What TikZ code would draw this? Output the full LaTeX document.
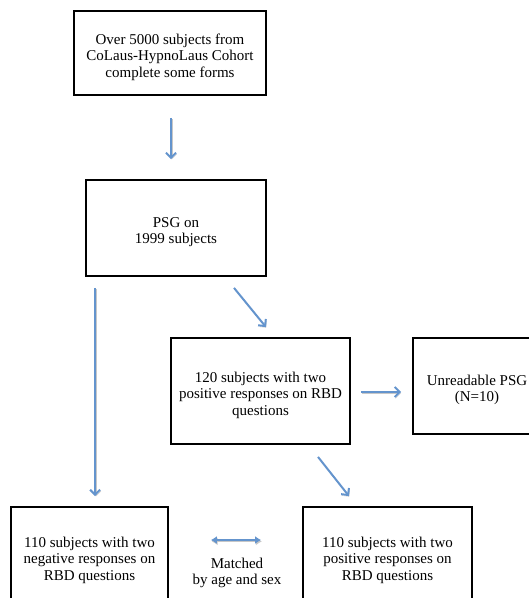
\documentclass[tikz,border=0pt]{standalone}
\usepackage{fontspec}
\setmainfont{Liberation Serif}
\usetikzlibrary{arrows.meta,calc}
\definecolor{arrowblue}{RGB}{100,148,205}
\tikzset{
  lbl/.style={align=center, inner sep=0pt, font=\fontsize{15}{16.5}\selectfont},
  box/.style={draw=black, line width=1.8pt, inner sep=0pt,
    label={[lbl, yshift=-4pt]center:#1}},
  flow/.style={draw=arrowblue, line width=2pt, -{Straight Barb[length=5pt,width=10pt,line width=2pt]},
    preaction={draw=black!22, transform canvas={shift={(0.8pt,-1.4pt)}}}},
  both/.style={draw=arrowblue, line width=2pt, {Latex[length=6pt,width=8pt]}-{Latex[length=6pt,width=8pt]},
    preaction={draw=black!22, transform canvas={shift={(0.8pt,-1.4pt)}}}}
}
\begin{document}
\begin{tikzpicture}[x=1pt,y=-1pt]
\useasboundingbox (0,0) rectangle (529,598);
\clip (0,0) rectangle (529,598);
\node[box={Over 5000 subjects from\\CoLaus-HypnoLaus Cohort\\complete some forms},
  minimum width=192pt, minimum height=84pt] (b1) at (170,53) {};
\node[box={PSG on\\1999 subjects}, minimum width=180pt, minimum height=96pt] (b2) at (176,228) {};
\node[box={120 subjects with two\\positive responses on RBD\\questions},
  minimum width=179pt, minimum height=106pt] (b3) at (260.5,391) {};
\node[box={Unreadable PSG\\(N=10)}, minimum width=128pt, minimum height=96pt] (b4) at (477,386) {};
\node[box={110 subjects with two\\negative responses on\\RBD questions},
  minimum width=157pt, minimum height=98pt] (b5) at (89.5,556) {};
\node[box={110 subjects with two\\positive responses on\\RBD questions},
  minimum width=169pt, minimum height=98pt] (b6) at (387.5,556) {};
\node[lbl] (m) at (237,573) {Matched\\by age and sex};
\draw[flow] ($(b1.south)+(1,22)$) -- ($(b1.south |- b2.north)+(1,-20)$);
\draw[flow] ($(b2.south west)+(10,11)$) -- ($(b2.south west |- b5.north)+(10,-10)$);
\draw[flow] ($(b2.south)+(58,11)$) -- ($(b3.north)+(5.5,-10)$);
\draw[flow] ($(b3.east)+(10,1)$) -- ($(b4.west)+(-11,6)$);
\draw[flow] ($(b3.south)+(57.5,12)$) -- ($(b6.north)+(-38.5,-10)$);
\draw[both] ($(b5.east)+(42,-16)$) -- ($(b6.west)+(-41,-16)$);
\end{tikzpicture}
\end{document}
